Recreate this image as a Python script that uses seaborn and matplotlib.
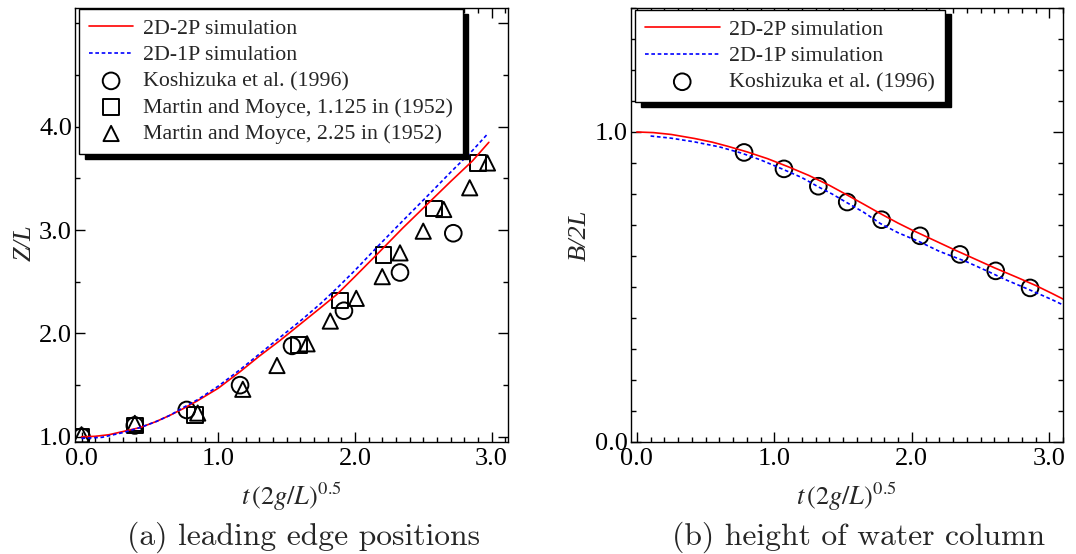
import matplotlib
matplotlib.use("Agg")
import matplotlib.pyplot as plt
import seaborn as sns
from matplotlib.ticker import MultipleLocator

# (a) leading edge positions
lead_2p_t = [0.00, 0.10, 0.20, 0.30, 0.43, 0.55, 0.65, 0.74, 0.85, 1.00, 1.16, 1.30,
             1.45, 1.60, 1.75, 1.87, 2.00, 2.18, 2.35, 2.56, 2.70, 2.86, 2.98]
lead_2p_z = [1.00, 1.005, 1.02, 1.05, 1.09, 1.15, 1.21, 1.27, 1.35, 1.47, 1.63, 1.78,
             1.93, 2.09, 2.25, 2.38, 2.55, 2.79, 3.02, 3.29, 3.47, 3.67, 3.85]
lead_1p_t = [0.00, 0.15, 0.30, 0.43, 0.55, 0.65, 0.74, 0.85, 1.00, 1.16, 1.30, 1.45,
             1.60, 1.75, 1.87, 2.00, 2.18, 2.35, 2.56, 2.70, 2.86, 2.97]
lead_1p_z = [0.985, 0.995, 1.04, 1.09, 1.15, 1.21, 1.28, 1.36, 1.49, 1.65, 1.80, 1.96,
             2.12, 2.29, 2.44, 2.61, 2.86, 3.09, 3.37, 3.56, 3.77, 3.93]

kosh_t = [0.00, 0.39, 0.77, 1.16, 1.54, 1.92, 2.33, 2.72]
kosh_z = [1.00, 1.11, 1.26, 1.50, 1.88, 2.22, 2.59, 2.97]
mm1125_t = [0.00, 0.39, 0.83, 1.59, 1.89, 2.21, 2.58, 2.90]
mm1125_z = [1.00, 1.11, 1.21, 1.89, 2.32, 2.76, 3.21, 3.65]
mm225_t = [0.00, 0.39, 0.85, 1.18, 1.43, 1.65, 1.82, 2.01, 2.20, 2.33, 2.50, 2.65, 2.84, 2.97]
mm225_z = [1.02, 1.13, 1.23, 1.46, 1.69, 1.90, 2.12, 2.34, 2.55, 2.78, 2.99, 3.20, 3.41, 3.65]

# (b) height of water column
col_2p_t = [0.00, 0.12, 0.25, 0.42, 0.55, 0.66, 0.80, 0.95, 1.10, 1.25, 1.40, 1.52,
            1.65, 1.77, 1.90, 2.00, 2.16, 2.30, 2.45, 2.60, 2.76, 2.90, 3.02, 3.10]
col_2p_b = [1.000, 0.998, 0.992, 0.979, 0.967, 0.954, 0.936, 0.914, 0.888, 0.860, 0.828, 0.799,
            0.767, 0.737, 0.706, 0.684, 0.651, 0.622, 0.592, 0.562, 0.532, 0.505, 0.479, 0.461]
col_1p_t = [0.10, 0.25, 0.42, 0.60, 0.76, 0.90, 1.05, 1.20, 1.32, 1.42, 1.52, 1.65,
            1.77, 1.90, 2.06, 2.20, 2.40, 2.55, 2.69, 2.85, 3.02, 3.10]
col_1p_b = [0.987, 0.980, 0.968, 0.952, 0.932, 0.910, 0.882, 0.853, 0.823, 0.800, 0.774, 0.741,
            0.705, 0.675, 0.645, 0.615, 0.581, 0.551, 0.522, 0.492, 0.459, 0.442]
kosh_b_t = [0.78, 1.07, 1.32, 1.53, 1.78, 2.06, 2.35, 2.61, 2.86]
kosh_b = [0.934, 0.881, 0.825, 0.774, 0.717, 0.665, 0.605, 0.552, 0.497]

sns.set_theme(style="ticks")
plt.rcParams["font.family"] = ["Liberation Serif", "DejaVu Serif"]
plt.rcParams["mathtext.fontset"] = "stix"
plt.rcParams["axes.linewidth"] = 0.5
plt.rcParams["axes.edgecolor"] = "black"

fig = plt.figure(figsize=(5.38, 2.77), dpi=200)
ax1 = fig.add_axes([0.0694, 0.2022, 0.4027, 0.7834])
ax2 = fig.add_axes([0.5861, 0.2022, 0.4019, 0.7834])

dash = (0, (2.2, 1.6))
mk = dict(facecolor="none", edgecolor="black", linewidth=0.7)

sns.lineplot(x=lead_2p_t, y=lead_2p_z, color="red", lw=0.6, sort=False, estimator=None,
             ax=ax1, label="2D-2P simulation")
sns.lineplot(x=lead_1p_t, y=lead_1p_z, color="blue", lw=0.6, ls=dash, sort=False, estimator=None,
             ax=ax1, label="2D-1P simulation")
sns.scatterplot(x=kosh_t, y=kosh_z, marker="o", s=36, ax=ax1, label="Koshizuka et al. (1996)", **mk)
sns.scatterplot(x=mm1125_t, y=mm1125_z, marker="s", s=32, ax=ax1,
                label="Martin and Moyce, 1.125 in (1952)", **mk)
sns.scatterplot(x=mm225_t, y=mm225_z, marker="^", s=30, ax=ax1,
                label="Martin and Moyce, 2.25 in (1952)", **mk)

sns.lineplot(x=col_2p_t, y=col_2p_b, color="red", lw=0.6, sort=False, estimator=None,
             ax=ax2, label="2D-2P simulation")
sns.lineplot(x=col_1p_t, y=col_1p_b, color="blue", lw=0.6, ls=dash, sort=False, estimator=None,
             ax=ax2, label="2D-1P simulation")
sns.scatterplot(x=kosh_b_t, y=kosh_b, marker="o", s=36, ax=ax2, label="Koshizuka et al. (1996)", **mk)

ax1.set_xlim(-0.05, 3.12)
ax1.set_ylim(0.95, 5.15)
ax1.set_yticks([1, 2, 3, 4, 5], ["1.0", "2.0", "3.0", "4.0", ""])
ax1.yaxis.set_minor_locator(MultipleLocator(0.5))

ax2.set_xlim(-0.045, 3.10)
ax2.set_ylim(0, 1.4)
ax2.set_yticks([0, 1], ["0.0", "1.0"])
ax2.yaxis.set_minor_locator(MultipleLocator(0.1))

for ax in (ax1, ax2):
    ax.set_xticks([0, 1, 2, 3], ["0.0", "1.0", "2.0", "3.0"])
    ax.xaxis.set_minor_locator(MultipleLocator(0.1))
    ax.tick_params(which="both", direction="in", top=True, right=True, width=0.5,
                   colors="black", labelsize=9.5)
    ax.tick_params(which="major", length=3.5)
    ax.tick_params(which="minor", length=1.8)
    ax.tick_params(axis="x", pad=2)
    ax.tick_params(axis="y", pad=1)
    ax.set_xlabel(r"$t\,(2g/L)^{0.5}$", fontsize=9.5)
    ax.xaxis.set_label_coords(0.5, -0.09)

ax1.set_ylabel("Z/L", fontstyle="italic", fontsize=9.5)
ax1.yaxis.set_label_coords(-0.09, 0.46)
ax2.set_ylabel("B/2L", fontstyle="italic", fontsize=9.5)
ax2.yaxis.set_label_coords(-0.092, 0.477)

leg_kw = dict(loc="upper left", borderaxespad=0, fontsize=7.9, frameon=True, fancybox=False,
              edgecolor="black", framealpha=1, labelspacing=0.27, borderpad=0.45,
              handletextpad=0.45, scatterpoints=1,
              shadow={"color": "black", "alpha": 1, "ox": 2, "oy": -1.7})
l1 = ax1.legend(bbox_to_anchor=(0.0106, 0.998), handlelength=2.0, **leg_kw)
l2 = ax2.legend(bbox_to_anchor=(0.0102, 0.996), handlelength=3.4, **leg_kw)
for lg in (l1, l2):
    lg.get_frame().set_linewidth(0.5)

fig.text(0.2825, 0.017, "(a) leading edge positions", ha="center", va="baseline",
         family="cmr10", fontsize=11.4)
fig.text(0.798, 0.017, "(b) height of water column", ha="center", va="baseline",
         family="cmr10", fontsize=11.4)

fig.savefig("out.png", dpi=200)
